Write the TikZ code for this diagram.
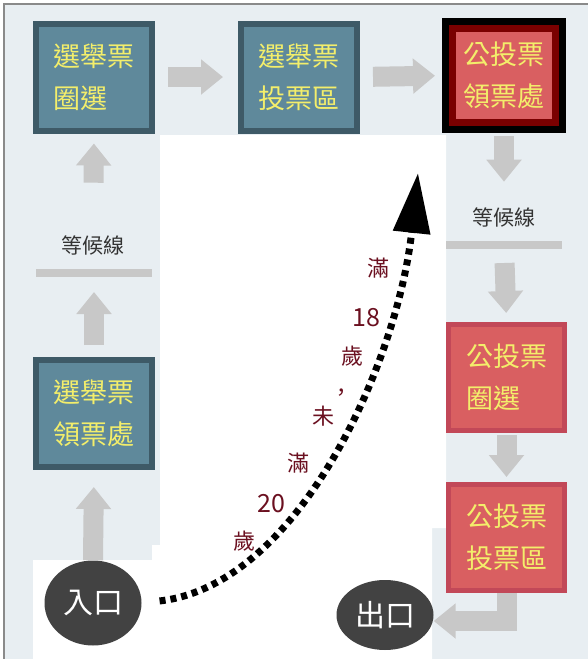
\documentclass[tikz,border=0pt]{standalone}
\usepackage{fontspec}
\setmainfont{Noto Sans CJK TC}
\usetikzlibrary{arrows.meta,shapes.geometric}

\definecolor{bgblue}{HTML}{E8EEF2}
\definecolor{boxblue}{HTML}{5F899B}
\definecolor{boxblueline}{HTML}{3E5A67}
\definecolor{boxred}{HTML}{D95F61}
\definecolor{boxredline}{HTML}{C24858}
\definecolor{darkred}{HTML}{7A0000}
\definecolor{txtyellow}{HTML}{F3EE6B}
\definecolor{flowgray}{HTML}{C8C8C8}
\definecolor{gategray}{HTML}{424242}
\definecolor{agered}{HTML}{6B1020}
\definecolor{framegray}{HTML}{8A8A8A}

\begin{document}
\begin{tikzpicture}[x=1pt,y=-1pt,
  votebox/.style={draw=boxblueline,line width=6pt,fill=boxblue,text=txtyellow,
    minimum width=116pt,minimum height=107pt,inner sep=0pt,align=left,
    font=\fontsize{27}{42}\selectfont},
  pollbox/.style={votebox,draw=boxredline,line width=5pt,fill=boxred,
    minimum width=116pt,minimum height=106pt},
  flow/.style={draw=flowgray,line width=20pt,-{Triangle[length=22pt,width=34pt]}},
  waitbar/.style={draw=flowgray,line width=8pt},
  waittext/.style={text=black!80,font=\fontsize{21}{21}\selectfont},
  gate/.style={ellipse,fill=gategray,text=white,inner sep=0pt,
    font=\fontsize{30}{30}\selectfont},
  agetext/.style={text=agered,font=\fontsize{22}{22}\selectfont},
  agenum/.style={agetext,font=\fontsize{25}{25}\selectfont},
  agepath/.style={line width=7pt,dash pattern=on 6pt off 5pt,
    -{Triangle[length=60pt,width=36pt]}}]
 \useasboundingbox (0,0) rectangle (588,659) ;

 \fill[bgblue] (4,4) rectangle (588,659) ;
 \fill[white] (160,135) -- (446,135) -- (446,528) -- (432,528) -- (432,659)
   -- (33,659) -- (33,560) -- (152,560) -- (152,545) -- (160,545) -- cycle ;
 \draw[framegray,line width=1.5pt] (4,659) -- (4,4) -- (588,4) ;

 % vote ballot side
 \node[votebox] (A) at (94,77) {選舉票\\圈選} ;
 \node[votebox] (B) at (299,77) {選舉票\\投票區} ;
 \node[votebox] (F) at (94,413.5) {選舉票\\領票處} ;

 % referendum side
 \node[pollbox,draw=darkred,line width=7pt,minimum width=103pt,minimum height=94pt,
   preaction={draw=black,line width=21pt}] (C) at (504,75.5) {公投票\\領票處} ;
 \node[pollbox] (D) at (506.5,377.5) {公投票\\圈選} ;
 \node[pollbox] (E) at (506.5,537.5) {公投票\\投票區} ;

 \node[waittext] (waitL) at (93,245) {等候線} ;
 \node[waittext] (waitR) at (504,217) {等候線} ;
 \coordinate (barL) at (94,273) ;
 \coordinate (barR) at (504,245) ;
 \draw[waitbar] ([xshift=-58pt]barL) -- ([xshift=58pt]barL) ;
 \draw[waitbar] ([xshift=-58pt]barR) -- ([xshift=58pt]barR) ;

 \node[gate,minimum width=97pt,minimum height=85pt] (entry) at (93,603) {入口} ;
 \node[gate,minimum width=97pt,minimum height=70pt] (exit) at (385,615) {出口} ;

 \draw[flow] (entry.north) -- (F.south) [shorten >=17pt] ;
 \draw[flow,shorten <=12pt,shorten >=19pt] (F.north) -- (barL) ;
 \draw[flow,shorten <=49pt,shorten >=10pt] (waitL) -- (A.south) ;
 \draw[flow,shorten <=13pt,shorten >=15pt] (A.east) -- (B.west) ;
 \draw[flow,shorten <=13pt,shorten >=14pt] (B.east) -- (C.west) ;
 \draw[flow,shorten <=10pt,shorten >=22pt] (C.south) -- (waitR) ;
 \draw[flow,shorten <=18pt,shorten >=9pt] (barR) -- (D.north) ;
 \draw[flow,shorten <=2pt,shorten >=5pt] (D.south) -- (E.north) ;
 \draw[flow] (E.south) |- ([yshift=-6pt]exit.east) ;

 % 18 to 20 year olds go straight to the referendum desk
 \coordinate (goal) at (418,173) ;
 \draw[agepath,shorten <=18pt] (entry.east) .. controls (300,585) and (398,360) .. (goal) ;

 \node[agetext] (a1) at (378,268) {滿} ;
 \node[agenum] (a2) at (366,318) {18} ;
 \node[agetext] (a3) at (352,356) {歲} ;
 \node[agetext] (a4) at (341,395) {，} ;
 \node[agetext] (a5) at (323,416) {未} ;
 \node[agetext] (a6) at (298,463) {滿} ;
 \node[agenum] (a7) at (271,504) {20} ;
 \node[agetext] (a8) at (244,541) {歲} ;
\end{tikzpicture}
\end{document}
